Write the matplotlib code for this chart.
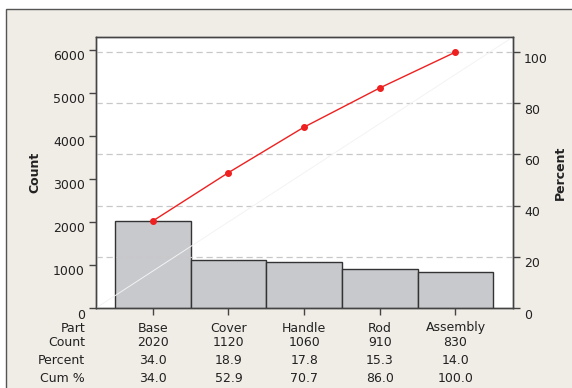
import matplotlib.pyplot as plt
from matplotlib.patches import Rectangle
from matplotlib.transforms import ScaledTranslation, blended_transform_factory

# Pareto data
parts = ["Base", "Cover", "Handle", "Rod", "Assembly"]
counts = [2020, 1120, 1060, 910, 830]
percent = [34.0, 18.9, 17.8, 15.3, 14.0]
cum_pct = [34.0, 52.9, 70.7, 86.0, 100.0]
count_ticks = [0, 1000, 2000, 3000, 4000, 5000, 6000]
pct_ticks = [0, 20, 40, 60, 80, 100]

plt.rcParams['font.family'] = ['DejaVu Sans']
plt.rcParams['font.size'] = 9

txt_col = '#222222'
spine_col = '#444444'

fig = plt.figure(figsize=(5.72, 3.88), dpi=100, facecolor='white')
# beige panel behind everything
fig.add_artist(Rectangle((6 / 572, -0.1), 1.2, 1 - 9 / 388 + 0.1, transform=fig.transFigure,
                         facecolor='#f0ece6', edgecolor='#555555', lw=1.0, zorder=-10))

ax = fig.add_axes([96 / 572, 1 - 308 / 388, (513 - 96) / 572, (308 - 37) / 388])
ax.set_facecolor('white')
ax2 = ax.twinx()

total = sum(counts)
top_pct = 105.9
ax.set_ylim(0, total * top_pct / 100)
ax2.set_ylim(0, top_pct)
ax.set_xlim(-0.75, 4.76)

x = list(range(len(parts)))
ax.bar(x, counts, width=1.0, color='#c8c9cd', edgecolor='#333333', linewidth=1.0, zorder=3)

# faint diagonal reference line
ax2.plot([0, 1], [0, 1], transform=ax2.transAxes, color='#f3f3f3', lw=0.7, zorder=1)

for p in pct_ticks[1:]:
    ax2.axhline(p, color='#c8c8c8', lw=0.9, ls=(0, (5, 3)), zorder=0)

ax2.plot(x, cum_pct, color='#ee2020', lw=1.0, marker='o', ms=4, zorder=5)

ax.set_yticks(count_ticks)
ax.set_yticklabels([str(v) for v in count_ticks])
ax2.set_yticks(pct_ticks)
ax2.set_yticklabels([str(v) for v in pct_ticks])
ax.set_xticks(x)
ax.set_xticklabels([])

for a in (ax, ax2):
    for s in a.spines.values():
        s.set_color(spine_col)
        s.set_linewidth(1.0)
    a.tick_params(colors=spine_col, labelcolor=txt_col, length=5, width=1.0, labelsize=9, pad=3)

shift = ScaledTranslation(0, -4 / 72, fig.dpi_scale_trans)
for lab in ax.get_yticklabels() + ax2.get_yticklabels():
    lab.set_transform(lab.get_transform() + shift)

ax.set_ylabel('Count', fontweight='bold', color=txt_col, fontsize=9, labelpad=8)
ax2.set_ylabel('Percent', fontweight='bold', color=txt_col, fontsize=9, labelpad=4)

# table under the chart
rows = [("Part", parts),
        ("Count", [str(c) for c in counts]),
        ("Percent", ["%.1f" % v for v in percent]),
        ("Cum %", ["%.1f" % v for v in cum_pct])]
row_y = [328, 343, 361, 378]
tr = blended_transform_factory(ax.transData, fig.transFigure)
for (name, vals), yp in zip(rows, row_y):
    fy = 1 - yp / 388
    fig.text(85 / 572, fy, name, ha='right', va='center', color=txt_col, fontsize=9)
    for xi, v in zip(x, vals):
        ax.text(xi, fy, v, transform=tr, ha='center', va='center', color=txt_col,
                fontsize=9, clip_on=False)

fig.savefig('out.png', dpi=100, facecolor=fig.get_facecolor())
